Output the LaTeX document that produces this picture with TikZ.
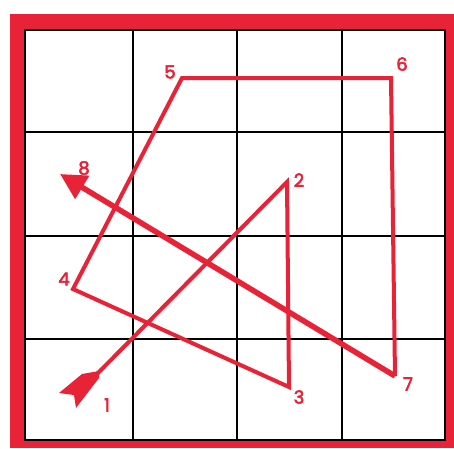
\documentclass[tikz,border=0pt]{standalone}
\usepackage{fontspec}
\newfontfamily\lblfont{Poppins}[FakeBold=3]
\usetikzlibrary{arrows.meta}
\definecolor{pathred}{RGB}{232,35,55}
\begin{document}
\begin{tikzpicture}[x=1pt,y=-1pt,
  gridline/.style={black,line width=1.2pt},
  route/.style={pathred,line width=4pt,line join=miter},
  lastleg/.style={pathred,line width=5.5pt},
  lbl/.style={text=pathred,font=\lblfont\fontsize{18}{18}\selectfont,inner sep=0pt}]
\useasboundingbox (0,0) rectangle (454,448);
\fill[white] (0,0) rectangle (454,448);
% frame
\fill[pathred] (10,14) rectangle (454,448);
\fill[white] (25,30) rectangle (445,440);
% grid
\foreach \x in {133,237,342} \draw[gridline] (\x,30) -- (\x,440);
\foreach \y in {132,236,339} \draw[gridline] (25,\y) -- (445,\y);
\draw[gridline] (25,30) rectangle (445,440);
% points
\coordinate (p1) at (96,375);
\coordinate (p2) at (287,182);
\coordinate (p3) at (289,387);
\coordinate (p4) at (73,289);
\coordinate (p5) at (182,78);
\coordinate (p6) at (391,78);
\coordinate (p7) at (395,376);
\coordinate (p8) at (60,174);
% route
\draw[route] (p1) -- (p2) -- (p3) -- (p4) -- (p5) -- (p6) -- (p7);
\draw[lastleg,-{Triangle[length=26pt,width=26pt]}] (p7) -- (p8);
% fletching
\fill[pathred] (99,371) -- (82,374) -- (59,393) -- (74,395) -- (76,408) -- (99,378) -- cycle;
% labels
\node[lbl] (l1) at (107,405) {1};
\node[lbl] (l2) at (299,180) {2};
\node[lbl] (l3) at (299,397) {3};
\node[lbl] (l4) at (64,279) {4};
\node[lbl] (l5) at (170,72) {5};
\node[lbl] (l6) at (402,64) {6};
\node[lbl] (l7) at (408,384) {7};
\node[lbl] (l8) at (84,168) {8};
\end{tikzpicture}
\end{document}
